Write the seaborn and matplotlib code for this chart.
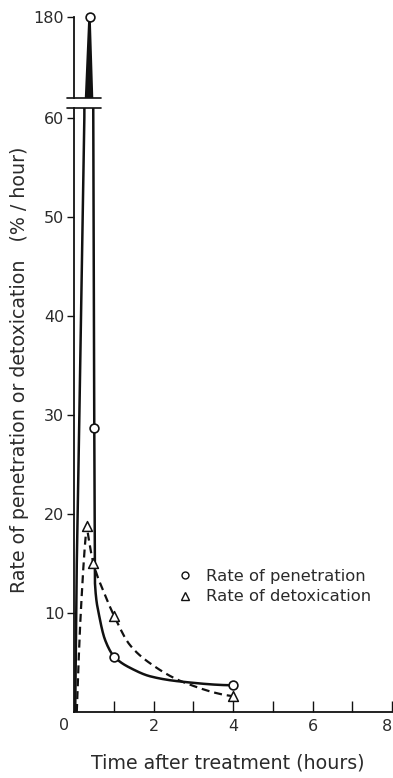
import numpy as np
import pandas as pd
import matplotlib
matplotlib.use("Agg")
import matplotlib.pyplot as plt
import seaborn as sns
from matplotlib.lines import Line2D

# Measured rates (% per hour) at sampling times (hours after treatment)
pen_time = [0.39, 0.51, 1.01, 4.0]
pen_rate = [180.0, 28.7, 5.6, 2.7]
det_time = [0.32, 0.49, 1.01, 4.0]
det_rate = [18.8, 15.0, 9.7, 1.6]

# Hand-drawn curves through the measurements (rising spike, then the decay)
pen_rise_t = [0.03, 0.07, 0.135, 0.26, 0.39, 0.485, 0.51]
pen_rise_r = [0.0, 15.0, 30.0, 60.0, 180.0, 60.0, 28.7]
pen_tail_t = [0.51, 0.515, 0.55, 0.62, 0.78, 1.01, 1.49, 1.92, 2.63, 4.0]
pen_tail_r = [28.7, 15.0, 11.8, 10.0, 7.3, 5.6, 4.3, 3.6, 3.1, 2.7]
det_rise_t = [0.07, 0.17, 0.32]
det_rise_r = [0.0, 10.0, 18.8]
det_tail_t = [0.32, 0.49, 0.75, 1.01, 1.4, 1.92, 2.76, 4.0]
det_tail_r = [18.8, 15.0, 12.1, 9.7, 6.8, 4.9, 3.0, 1.6]

x_ticks = [2, 4, 6, 8]
x_tick_labels = ["2", "4", "6", "8"]
x_minor = [1, 3, 5, 7]
y_ticks = [10, 20, 30, 40, 50, 60]
y_ticks_top = [180]
legend_labels = ["Rate of penetration", "Rate of detoxication"]
x_label = "Time after treatment (hours)"
y_label = "Rate of penetration or detoxication   (% / hour)"


def pchip(x, y, n=200):
    """Monotone cubic Hermite curve through (x, y)."""
    x = np.asarray(x, float)
    y = np.asarray(y, float)
    h = np.diff(x)
    d = np.diff(y) / h
    m = np.zeros_like(y)
    for k in range(1, len(x) - 1):
        if d[k - 1] * d[k] > 0:
            w1 = 2 * h[k] + h[k - 1]
            w2 = h[k] + 2 * h[k - 1]
            m[k] = (w1 + w2) / (w1 / d[k - 1] + w2 / d[k])
    if len(x) > 2:
        m0 = ((2 * h[0] + h[1]) * d[0] - h[0] * d[1]) / (h[0] + h[1])
        m[0] = 0 if np.sign(m0) != np.sign(d[0]) else m0
        mn = ((2 * h[-1] + h[-2]) * d[-1] - h[-1] * d[-2]) / (h[-1] + h[-2])
        m[-1] = 0 if np.sign(mn) != np.sign(d[-1]) else mn
    else:
        m[:] = d[0]
    xs = np.linspace(x[0], x[-1], n)
    i = np.clip(np.searchsorted(x, xs) - 1, 0, len(x) - 2)
    t = (xs - x[i]) / h[i]
    h00 = 2 * t**3 - 3 * t**2 + 1
    h10 = t**3 - 2 * t**2 + t
    h01 = -2 * t**3 + 3 * t**2
    h11 = t**3 - t**2
    ys = h00 * y[i] + h10 * h[i] * m[i] + h01 * y[i + 1] + h11 * h[i] * m[i + 1]
    return xs, ys


tail_x, tail_y = pchip(pen_tail_t, pen_tail_r)
pen_x = np.concatenate([pen_rise_t, tail_x[1:]])
pen_y = np.concatenate([pen_rise_r, tail_y[1:]])
drx, dry = pchip(det_rise_t, det_rise_r, 60)
dtx, dty = pchip(det_tail_t, det_tail_r)
det_x = np.concatenate([drx, dtx[1:]])
det_y = np.concatenate([dry, dty[1:]])

pen_curve = pd.DataFrame({"t": pen_x, "rate": pen_y})
det_curve = pd.DataFrame({"t": det_x, "rate": det_y})
pen_pts = pd.DataFrame({"t": pen_time, "rate": pen_rate})
det_pts = pd.DataFrame({"t": det_time, "rate": det_rate})

sns.set_theme(style="ticks")
plt.rcParams["font.family"] = ["DejaVu Sans"]
ink = "#111111"
txt = "#2b2b2b"

W, H = 393, 778
fig = plt.figure(figsize=(W / 100, H / 100), dpi=100)
ax = fig.add_axes([74 / W, 1 - 712 / H, 318 / W, 604 / H])
axt = fig.add_axes([74 / W, 1 - 97.7 / H, 318 / W, 80.7 / H], sharex=ax)

lo_top, hi_bot = 100, 61

for a in (ax, axt):
    sns.lineplot(data=pen_curve, x="t", y="rate", sort=False, estimator=None,
                 color=ink, lw=1.8, ax=a, legend=False)
    sns.lineplot(data=det_curve, x="t", y="rate", sort=False, estimator=None,
                 color=ink, lw=1.6, linestyle=(0, (3.6, 2.2)), ax=a, legend=False)

# solid spike above the break
spike = pen_curve[pen_curve["rate"] >= 60]
spike = spike.iloc[: spike["rate"].values.argmax() * 2 + 1]
axt.fill(spike["t"], spike["rate"], color=ink, lw=0)

low_pen = pen_pts[pen_pts["rate"] <= hi_bot]
top_pen = pen_pts[pen_pts["rate"] >= lo_top]
sns.scatterplot(data=low_pen, x="t", y="rate", marker="o", s=40, color="white",
                edgecolor=ink, linewidth=1.2, zorder=5, ax=ax, clip_on=False)
sns.scatterplot(data=det_pts, x="t", y="rate", marker="^", s=50, color="white",
                edgecolor=ink, linewidth=1.1, zorder=5, ax=ax, clip_on=False)
sns.scatterplot(data=top_pen, x="t", y="rate", marker="o", s=40, color="white",
                edgecolor=ink, linewidth=1.2, zorder=5, ax=axt, clip_on=False)

# lower panel
ax.set_xlim(0, 8)
ax.set_ylim(0, hi_bot)
ax.set_xticks(x_ticks, labels=x_tick_labels)
ax.set_xticks(x_minor, minor=True)
ax.set_yticks(y_ticks)
ax.tick_params(axis="x", which="both", direction="in", length=8, width=1,
               pad=5, labelsize=11.5, colors=ink, labelcolor=txt)
ax.tick_params(axis="y", direction="out", length=5, width=1, pad=2,
               labelsize=11.5, colors=ink, labelcolor=txt)
ax.get_xticklabels()[-1].set_horizontalalignment("right")
ax.spines[["top", "right"]].set_visible(False)
for s in ("left", "bottom"):
    ax.spines[s].set_linewidth(1.3)
    ax.spines[s].set_color(ink)
ax.set_xlabel("")
ax.set_ylabel("")
ax.annotate("0", xy=(0, 0), xytext=(-10, -13), textcoords="offset pixels",
            ha="center", va="center", fontsize=11.5, color=txt)

# upper panel
axt.set_ylim(lo_top, 180)
axt.set_yticks(y_ticks_top)
axt.tick_params(axis="y", direction="out", length=5, width=1, pad=2,
                labelsize=11.5, colors=ink, labelcolor=txt)
axt.tick_params(axis="x", which="both", bottom=False, labelbottom=False)
axt.spines[["top", "right", "bottom"]].set_visible(False)
axt.spines["left"].set_linewidth(1.3)
axt.spines["left"].set_color(ink)
axt.set_xlabel("")
axt.set_ylabel("")

# break marks across the axis
ax.plot([-0.18, 0.68], [hi_bot, hi_bot], color=ink, lw=1.2, clip_on=False)
axt.plot([-0.18, 0.68], [lo_top, lo_top], color=ink, lw=1.2, clip_on=False)

handles = [
    Line2D([], [], marker="o", ls="none", mfc="white", mec=ink, ms=5, mew=1.0),
    Line2D([], [], marker="^", ls="none", mfc="white", mec=ink, ms=5.5, mew=1.0),
]
ax.legend(handles, legend_labels, loc="center left",
          bbox_to_anchor=(177 / W, 1 - 586.5 / H), bbox_transform=fig.transFigure,
          frameon=False, fontsize=11.8, handlelength=0.95, handletextpad=0.8,
          labelspacing=0.35, borderpad=0, borderaxespad=0, labelcolor=txt)

fig.text(20 / W, 1 - 370 / H, y_label, rotation=90, ha="center", va="center",
         fontsize=13.7, color=txt)
fig.text(228 / W, 1 - 763 / H, x_label, ha="center", va="center",
         fontsize=13.7, color=txt)

fig.savefig("out.png", dpi=100)
